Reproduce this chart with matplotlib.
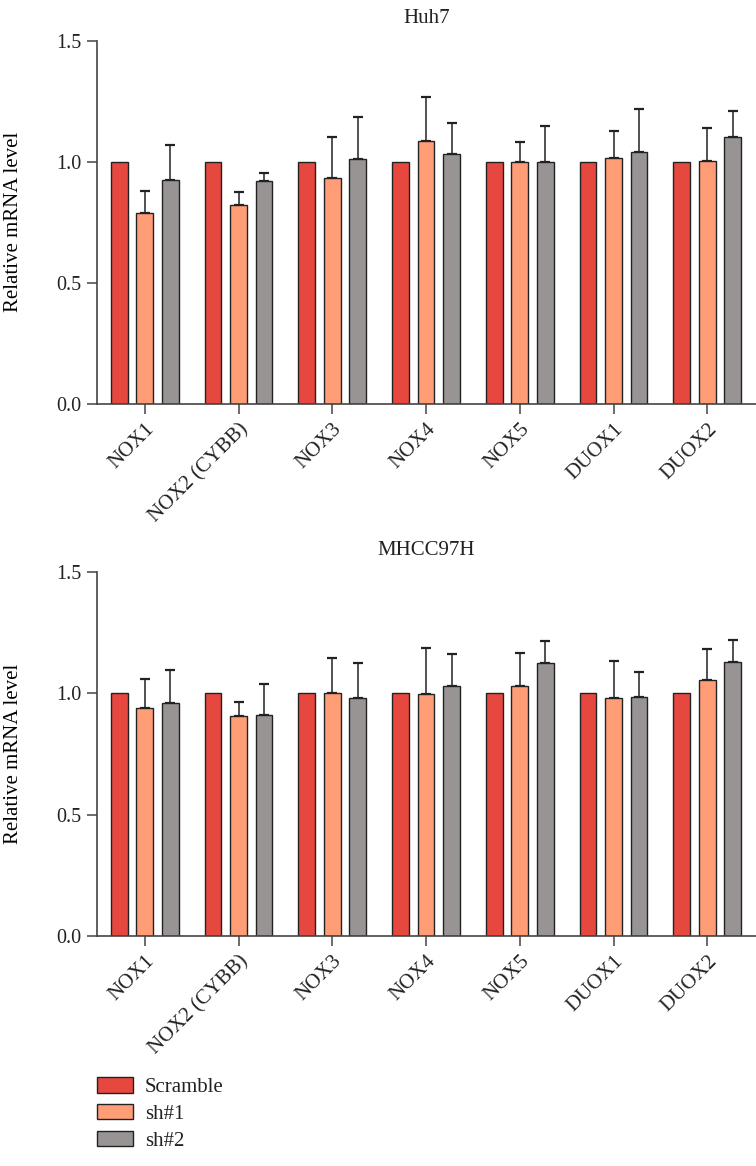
import numpy as np
import matplotlib.pyplot as plt
from matplotlib.patches import Patch

genes = ['NOX1', 'NOX2 (CYBB)', 'NOX3', 'NOX4', 'NOX5', 'DUOX1', 'DUOX2']
groups = ['Scramble', 'sh#1', 'sh#2']
colors = ['#E6483F', '#FF9D77', '#989493']

# Huh7
huh7_scr = [1.0, 1.0, 1.0, 1.0, 1.0, 1.0, 1.0]
huh7_sh1 = [0.788, 0.823, 0.933, 1.087, 1.0, 1.014, 1.003]
huh7_sh2 = [0.923, 0.920, 1.011, 1.033, 0.997, 1.041, 1.104]
huh7_sh1_err = [0.092, 0.052, 0.167, 0.182, 0.082, 0.112, 0.138]
huh7_sh2_err = [0.144, 0.035, 0.172, 0.125, 0.149, 0.175, 0.105]

# MHCC97H
mhcc_scr = [1.0, 1.0, 1.0, 1.0, 1.0, 1.0, 1.0]
mhcc_sh1 = [0.940, 0.907, 1.003, 0.996, 1.032, 0.982, 1.056]
mhcc_sh2 = [0.962, 0.909, 0.981, 1.032, 1.126, 0.986, 1.129]
mhcc_sh1_err = [0.118, 0.057, 0.142, 0.191, 0.134, 0.150, 0.126]
mhcc_sh2_err = [0.133, 0.128, 0.144, 0.130, 0.089, 0.102, 0.091]

plt.rcParams['font.family'] = ['Liberation Serif', 'DejaVu Serif']
plt.rcParams['text.color'] = '#222222'
plt.rcParams['xtick.labelcolor'] = '#222222'
plt.rcParams['ytick.labelcolor'] = '#222222'

fig = plt.figure(figsize=(7.56, 11.66), dpi=100)
ax_top = fig.add_axes([0.1283, 0.6535, 0.8717, 0.3117])
ax_bot = fig.add_axes([0.1283, 0.1973, 0.8717, 0.3121])

x = np.arange(len(genes))
width = 0.18
step = 0.272


def draw(ax, title, scr, sh1, sh2, e1, e2):
    vals = [scr, sh1, sh2]
    errs = [None, e1, e2]
    for i in range(3):
        pos = x + (i - 1) * step
        ax.bar(pos, vals[i], width, color=colors[i], edgecolor='#222222',
               linewidth=1.0, zorder=2)
        if errs[i] is not None:
            ax.errorbar(pos, vals[i], yerr=[np.zeros(len(genes)), errs[i]],
                        fmt='none', ecolor='#222222', elinewidth=1.1,
                        capsize=3.4, capthick=1.6, zorder=1)
    ax.set_xlim(-0.51, 6.52)
    ax.set_ylim(0, 1.5)
    ax.set_yticks([0.0, 0.5, 1.0, 1.5])
    ax.set_yticklabels(['0.0', '0.5', '1.0', '1.5'])
    ax.set_xticks(x)
    ax.set_xticklabels(genes, rotation=45, ha='right', rotation_mode='anchor')
    ax.set_ylabel('Relative mRNA level', fontsize=15)
    ax.yaxis.set_label_coords(-0.112, 0.5)
    ax.set_title(title, fontsize=15, pad=12.5)
    for s in ['top', 'right']:
        ax.spines[s].set_visible(False)
    for s in ['left', 'bottom']:
        ax.spines[s].set_color('#444444')
        ax.spines[s].set_linewidth(1.2)
    ax.tick_params(axis='both', direction='out', length=7.5, width=1.1,
                   color='#444444', labelsize=14.5, pad=4)
    ax.tick_params(axis='x', labelsize=15)


draw(ax_top, 'Huh7', huh7_scr, huh7_sh1, huh7_sh2, huh7_sh1_err, huh7_sh2_err)
draw(ax_bot, 'MHCC97H', mhcc_scr, mhcc_sh1, mhcc_sh2, mhcc_sh1_err, mhcc_sh2_err)

handles = [Patch(facecolor=c, edgecolor='#222222', linewidth=1.0) for c in colors]
fig.legend(handles, groups, loc='upper left', bbox_to_anchor=(0.1283, 0.0763),
           frameon=False, fontsize=15, handlelength=1.75, handleheight=0.78,
           labelspacing=0.32, handletextpad=0.55, borderpad=0, borderaxespad=0)

fig.savefig('out.png', dpi=100)
